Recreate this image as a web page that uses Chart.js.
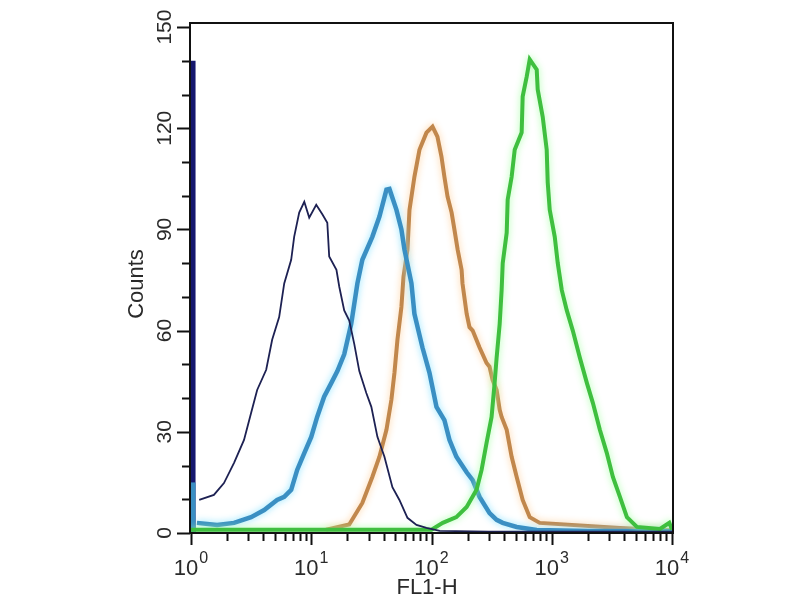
<!DOCTYPE html>
<html>
<head>
<meta charset="utf-8">
<script src="https://cdn.jsdelivr.net/npm/chart.js@4.4.1/dist/chart.umd.min.js"></script>
<style>
  html, body { margin: 0; padding: 0; background: #fff; }
  #wrap { width: 800px; height: 600px; }
</style>
</head>
<body>
<div id="wrap"><canvas id="histo" width="800" height="600"></canvas></div>
<script>
// FL1-H channel values (log axis) and counts
const isoX = [1.17, 1.55, 1.88, 2.28, 2.76, 3.16, 3.55, 4.22, 4.73, 5.41, 5.96, 6.81, 7.21, 7.94, 8.75, 9.62, 11.0, 12.4, 13.6, 14.1, 16.2, 17.1, 18.8, 20.7, 22.8, 25.1, 28.7, 31.6, 35.5, 40.6, 47.3, 54.1, 63.1, 75, 90.8, 117, 300, 10000];
const isoCounts = [9.8, 11.3, 14.8, 20.8, 27.6, 35.6, 42.4, 48.4, 57.3, 64, 74, 81, 87.8, 95, 98.2, 93.5, 97.3, 94.4, 92, 82, 78, 73, 66, 63, 56, 48, 41.5, 37.4, 28.5, 22.6, 13.6, 9.8, 4.5, 2.4, 1.5, 0.6, 0.4, 0.4];

const lowX = [1.12, 1.65, 2.28, 3.16, 4.06, 5.2, 5.96, 6.81, 7.64, 8.75, 10, 11.2, 12.8, 14.7, 16.5, 18.8, 21.5, 24.2, 26.6, 32.2, 36.9, 42.2, 44.7, 51.1, 56.2, 59.6, 68.1, 72.1, 84.1, 96.2, 110, 128, 141, 161, 196, 220, 251, 304, 348, 391, 511, 750, 2000, 10000];
const lowCounts = [3, 2.4, 3, 4.7, 6.8, 9.8, 10.7, 12.8, 18.7, 23.7, 28.5, 34.4, 40.4, 44.5, 48, 53, 62, 74, 81, 87.8, 93.8, 101.8, 102, 95.8, 90, 84, 74, 65, 55, 47.5, 37.4, 33.5, 27.6, 22.6, 18, 15.7, 10.7, 5.9, 3.9, 3, 1.8, 0.9, 0.6, 0.5];

const midX = [13.3, 20.7, 26.6, 32.2, 36.9, 42.2, 46.4, 49.2, 52.1, 56.2, 58.5, 63.1, 65.6, 72.1, 79.4, 90.8, 102, 112, 121, 128, 136, 147, 155, 165, 178, 181, 196, 207, 220, 251, 287, 304, 322, 348, 369, 383, 422, 464, 511, 573, 656, 794, 3690, 10000];
const midCounts = [1, 2.5, 8.9, 16.6, 22.6, 30.6, 39.5, 47.5, 57.3, 67, 76, 84, 95.8, 105.6, 113.6, 118.7, 120.5, 117.5, 111.6, 105.6, 99.7, 95, 90, 84, 78, 74, 65, 61, 60, 55, 50.4, 49.3, 45.4, 42.4, 36.5, 34.4, 30.6, 22.6, 16.6, 9.8, 4.7, 3, 1.5, 0.8];

const highX = [1, 10, 100, 124, 161, 196, 237, 261, 287, 316, 335, 348, 369, 383, 391, 422, 430, 464, 492, 562, 573, 619, 656, 750, 764, 841, 908, 926, 962, 1059, 1122, 1212, 1334, 1496, 1711, 1958, 2197, 2512, 2871, 3224, 3690, 4217, 5108, 7943, 9500, 10000];
const highCounts = [1, 1, 1, 3, 4.7, 7.7, 12.8, 18.7, 26.7, 34.4, 44.5, 52, 62, 72, 80, 89, 98.8, 105.6, 113.6, 118.7, 129.4, 135.3, 140.4, 137.4, 131.5, 123.4, 113.6, 103.9, 95.8, 87.8, 80, 72, 66, 60, 52, 44.5, 38.6, 30.6, 23.7, 16.6, 10.7, 4.7, 1.8, 1.2, 3, 1];

// events piled up in the first channel
const firstChannelX = [1.04, 1.04];
const isoFirstChannel = [0, 140];
const lowFirstChannel = [0, 15];

const yMajorTicks = [0, 30, 60, 90, 120, 150];
const yMinorStep = 10;
const xDecades = [1, 10, 100, 1000, 10000];
const xExponents = ['0', '1', '2', '3', '4'];

function pts(xs, ys) {
  return xs.map((x, i) => ({ x: x, y: ys[i] }));
}

const FONT = '"Liberation Sans", Arial, sans-serif';

const glowPlugin = {
  id: 'glow',
  beforeDatasetDraw(chart, args) {
    const ds = chart.data.datasets[args.index];
    chart.ctx.save();
    if (ds.glowColor) {
      chart.ctx.shadowColor = ds.glowColor;
      chart.ctx.shadowBlur = 7;
    }
  },
  afterDatasetDraw(chart) {
    chart.ctx.restore();
  }
};

const axesPlugin = {
  id: 'flowAxes',
  beforeDraw(chart) {
    const ctx = chart.ctx;
    ctx.save();
    ctx.fillStyle = '#fff';
    ctx.fillRect(0, 0, chart.width, chart.height);
    ctx.restore();
  },
  afterDraw(chart) {
    const ctx = chart.ctx;
    const area = chart.chartArea;
    const xs = chart.scales.x;
    const ys = chart.scales.y;
    ctx.save();
    ctx.strokeStyle = '#111';
    ctx.fillStyle = '#2a2a2a';
    ctx.lineWidth = 2;
    ctx.strokeRect(area.left - 1, area.top, area.right - area.left + 2, area.bottom - area.top);

    // y ticks
    for (let v = 0; v <= 150; v += yMinorStep) {
      const py = Math.round(ys.getPixelForValue(v)) + 0.5;
      const len = yMajorTicks.includes(v) ? 13 : 8;
      ctx.beginPath();
      ctx.moveTo(area.left - 1, py);
      ctx.lineTo(area.left - 1 - len, py);
      ctx.stroke();
    }
    ctx.font = '21px ' + FONT;
    ctx.textAlign = 'center';
    ctx.textBaseline = 'middle';
    yMajorTicks.forEach(v => {
      const py = ys.getPixelForValue(v);
      ctx.save();
      ctx.translate(165, py);
      ctx.rotate(-Math.PI / 2);
      ctx.fillText(String(v), 0, 0);
      ctx.restore();
    });

    // x ticks
    xDecades.forEach((d, i) => {
      const px = Math.round(xs.getPixelForValue(d)) + 0.5;
      ctx.beginPath();
      ctx.moveTo(px, area.bottom);
      ctx.lineTo(px, area.bottom + 12);
      ctx.stroke();
      if (i < xDecades.length - 1) {
        for (let m = 2; m <= 9; m++) {
          const mx = Math.round(xs.getPixelForValue(d * m)) + 0.5;
          ctx.beginPath();
          ctx.moveTo(mx, area.bottom);
          ctx.lineTo(mx, area.bottom + 8);
          ctx.stroke();
        }
      }
    });
    ctx.textAlign = 'left';
    ctx.textBaseline = 'alphabetic';
    xDecades.forEach((d, i) => {
      const px = xs.getPixelForValue(d);
      ctx.font = '22px ' + FONT;
      const wBase = ctx.measureText('10').width;
      ctx.font = '16px ' + FONT;
      const wExp = ctx.measureText(xExponents[i]).width;
      const x0 = px - (wBase + wExp + 1) / 2;
      ctx.font = '22px ' + FONT;
      ctx.fillText('10', x0, 575);
      ctx.font = '16px ' + FONT;
      ctx.fillText(xExponents[i], x0 + wBase + 1, 563);
    });

    // axis titles
    ctx.font = '22px ' + FONT;
    ctx.textAlign = 'center';
    ctx.textBaseline = 'middle';
    ctx.fillText('FL1-H', 427, 588);
    ctx.save();
    ctx.translate(137, 284);
    ctx.rotate(-Math.PI / 2);
    ctx.fillText('Counts', 0, 0);
    ctx.restore();
    ctx.restore();
  }
};

new Chart(document.getElementById('histo'), {
  type: 'line',
  data: {
    datasets: [
      { label: 'Isotype', data: pts(isoX, isoCounts), borderColor: '#1d2153', borderWidth: 1.8, order: 1 },
      { label: 'Isotype first channel', data: pts(firstChannelX, isoFirstChannel), borderColor: '#15176e', borderWidth: 5, order: 4 },
      { label: 'Low', data: pts(lowX, lowCounts), borderColor: '#3a8fc3', borderWidth: 4.5, glowColor: 'rgba(130,225,255,0.9)', order: 5 },
      { label: 'Low first channel', data: pts(firstChannelX, lowFirstChannel), borderColor: '#3a8fc3', borderWidth: 5, order: 3 },
      { label: 'Mid', data: pts(midX, midCounts), borderColor: '#c1874c', borderWidth: 4, glowColor: 'rgba(255,205,150,0.9)', order: 6 },
      { label: 'High', data: pts(highX, highCounts), borderColor: '#3fbf3f', borderWidth: 4, glowColor: 'rgba(160,255,160,0.9)', order: 2 }
    ]
  },
  options: {
    responsive: false,
    animation: false,
    devicePixelRatio: 1,
    layout: { padding: { top: 23, right: 128, left: 0, bottom: 0 } },
    elements: { point: { radius: 0 }, line: { tension: 0 } },
    plugins: { legend: { display: false }, tooltip: { enabled: false } },
    scales: {
      x: {
        type: 'logarithmic', min: 1, max: 10000,
        ticks: { display: false }, grid: { display: false }, border: { display: false },
        afterFit: (s) => { s.height = 67; }
      },
      y: {
        type: 'linear', min: 0, max: 151.2,
        ticks: { display: false }, grid: { display: false }, border: { display: false },
        afterFit: (s) => { s.width = 191; }
      }
    }
  },
  plugins: [glowPlugin, axesPlugin]
});
</script>
</body>
</html>
